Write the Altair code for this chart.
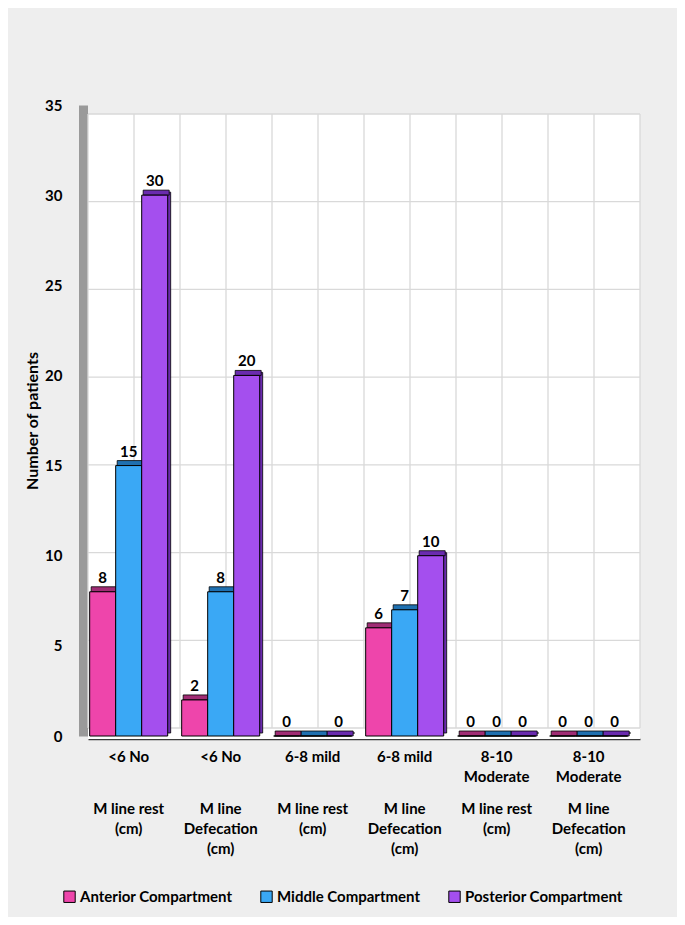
import altair as alt
import pandas as pd

# ---------------- data ----------------
severity = ["<6 No", "<6 No", "6-8 mild", "6-8 mild", "8-10 Moderate", "8-10 Moderate"]
measure = ["M line rest (cm)", "M line Defecation (cm)", "M line rest (cm)",
           "M line Defecation (cm)", "M line rest (cm)", "M line Defecation (cm)"]
severity_lines = ["<6 No", "<6 No", "6-8 mild", "6-8 mild", "8-10\nModerate", "8-10\nModerate"]
measure_lines = ["M line rest\n(cm)", "M line\nDefecation\n(cm)", "M line rest\n(cm)",
                 "M line\nDefecation\n(cm)", "M line rest\n(cm)", "M line\nDefecation\n(cm)"]
series = ["Anterior Compartment", "Middle Compartment", "Posterior Compartment"]
anterior = [8, 2, 0, 6, 0, 0]
middle = [15, 8, 0, 7, 0, 0]
posterior = [30, 20, 0, 10, 0, 0]
anterior_labels = ["8", "2", "0", "6", "0", "0"]
middle_labels = ["15", "8", "", "7", "0", "0"]
posterior_labels = ["30", "20", "0", "10", "0", "0"]
y_ticks = [0, 5, 10, 15, 20, 25, 30, 35]
grid_steps = list(range(13))  # half-category grid positions

colors = ["#EE45AB", "#3AA8F5", "#A44FEE"]
dark = ["#A02C74", "#1F70B0", "#6A2BAE"]

keys = [f"{s} | {m}" for s, m in zip(severity, measure)]

rows = []
for si, (vals, labs) in enumerate([(anterior, anterior_labels), (middle, middle_labels),
                                   (posterior, posterior_labels)]):
    for k, v, l in zip(keys, vals, labs):
        rows.append({"cat": k, "series": series[si], "value": v, "label": l, "dark": dark[si]})
df = pd.DataFrame(rows)
lab_df = pd.DataFrame({"cat": keys, "top": severity_lines, "bottom": measure_lines})
vgrid_df = pd.DataFrame({"g": grid_steps})
hgrid_df = pd.DataFrame({"t": y_ticks})

FONT = "Lato"
W, H = 552, 631

xscale = alt.Scale(domain=keys, paddingInner=0.152, paddingOuter=0.076, align=0.12)
yscale = alt.Scale(domain=[0, 35], nice=False)
# back wall of the 3-D box sits slightly inside the front plane
back_y = alt.Scale(domain=[0, 35], nice=False, range=[623, 9])
grid_x = alt.Scale(domain=[0, 12], nice=False, zero=False)

x_axis = alt.Axis(orient="bottom", labels=False, ticks=False, grid=False, title=None,
                  domainColor="#3a3a3a", domainWidth=1.5, offset=3)
y_axis = alt.Axis(orient="left", values=y_ticks, title="Number of patients", ticks=False,
                  offset=5, domainColor="#9a9a9a", domainWidth=9,
                  labelPadding=21, labelFont=FONT, labelFontSize=15,
                  labelFontWeight="bold", labelColor="black",
                  titleFont=FONT, titleFontSize=16, titleFontWeight="bold",
                  titleColor="black", titlePadding=4.5, grid=False)

X = alt.X("cat:N", scale=xscale, axis=x_axis, title=None)
Y = alt.Y("value:Q", scale=yscale, axis=y_axis, title="Number of patients")

# ---- back wall + floor (white) and grid lines ----
wall = alt.Chart(hgrid_df).mark_rect(color="white").encode(
    x=alt.value(0), x2=alt.value(W),
    y=alt.Y("max(t):Q", scale=back_y, axis=None), y2=alt.value(H + 3),
)
hgrid = alt.Chart(hgrid_df).mark_rule(color="#d9d9d9", strokeWidth=1.3).encode(
    y=alt.Y("t:Q", scale=back_y, axis=None),
)
vgrid = alt.Chart(vgrid_df).mark_rule(color="#d9d9d9", strokeWidth=1.3).encode(
    x=alt.X("g:Q", scale=grid_x, axis=None),
    y=alt.datum(35, scale=back_y), y2=alt.datum(0),
)
back = alt.layer(wall, hgrid, vgrid)

xo_plain = alt.XOffset("series:N", sort=series, scale=alt.Scale(domain=series))

shadow = alt.Chart(df).mark_bar(yOffset=-3, stroke="black", strokeWidth=0.8).encode(
    x=X,
    xOffset=alt.XOffset("series:N", sort=series, scale=alt.Scale(domain=series, range=[3, 81])),
    y=Y,
    color=alt.Color("dark:N", scale=None),
)

topface = alt.Chart(df).mark_tick(size=26, thickness=5, yOffset=-2.5, stroke="black",
                                  strokeWidth=0.8, opacity=1).encode(
    x=X,
    xOffset=alt.XOffset("series:N", sort=series, scale=alt.Scale(domain=series, range=[1.5, 79.5])),
    y=Y,
    color=alt.Color("dark:N", scale=None),
)

main = alt.Chart(df).mark_bar(stroke="black", strokeWidth=1).encode(
    x=X,
    xOffset=xo_plain,
    y=Y,
    color=alt.Color("series:N", sort=series, scale=alt.Scale(domain=series, range=colors),
                    legend=alt.Legend(orient="none", legendX=-26, legendY=784,
                                      direction="horizontal", title=None,
                                      symbolType="square", symbolSize=130,
                                      symbolStrokeColor="black", symbolStrokeWidth=1,
                                      labelFont=FONT, labelFontSize=15,
                                      labelFontWeight="bold", labelColor="black",
                                      columnPadding=25, labelOffset=3)),
)

values = alt.Chart(df).mark_text(baseline="middle", dy=-14, font=FONT, fontSize=15,
                                 fontWeight="bold", color="black").encode(
    x=X,
    xOffset=xo_plain,
    y=Y,
    text="label:N",
)

top_labels = alt.Chart(lab_df).mark_text(lineBreak="\n", baseline="top", lineHeight=20,
                                         font=FONT, fontSize=15, fontWeight="bold",
                                         color="black").encode(
    x=X,
    y=alt.value(645),
    text="top:N",
)

bottom_labels = alt.Chart(lab_df).mark_text(lineBreak="\n", baseline="top", lineHeight=20,
                                            font=FONT, fontSize=15, fontWeight="bold",
                                            color="black").encode(
    x=X,
    y=alt.value(697),
    text="bottom:N",
)

bars = alt.layer(shadow, topface, main, values, top_labels, bottom_labels).resolve_scale(
    xOffset="independent"
)

chart = alt.layer(back, bars).resolve_scale(x="independent", y="independent").properties(
    width=W, height=H,
    autosize=alt.AutoSizeParams(type="none"),
    padding={"left": 80, "top": 97, "right": 37, "bottom": 181},
    background="#eeeeee",
).configure_view(strokeWidth=0)

chart.save("out.html", embed_options={"renderer": "svg", "actions": False})
